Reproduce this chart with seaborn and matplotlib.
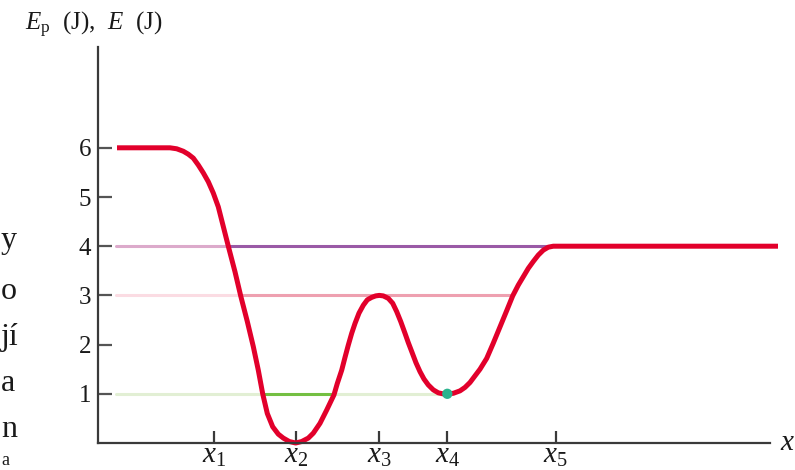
import numpy as np
import matplotlib
matplotlib.use("Agg")
import matplotlib.pyplot as plt
import seaborn as sns

# potential energy curve (x in arbitrary units)
curve_x = [19, 72, 78.7, 85.3, 90.3, 95.3, 100.3, 105.3, 110.3, 115.3, 120.3, 125.3,
           130.3, 137, 142.7, 149.3, 155.3, 160.3, 164.7, 169.3, 174.7, 180.3, 185.3,
           191.3, 197.7, 203.7, 210.3, 215.3, 222, 228.7, 236, 239.3, 243.7, 247,
           250.3, 253.7, 257, 261, 265.3, 269.3, 273.7, 277.7, 281.3, 285.3, 290.3,
           294.7, 298.7, 302.7, 307, 310.3, 313.7, 318, 322, 326, 330.3, 335.3, 340.3,
           344.7, 349.3, 355.3, 362, 367, 372, 382, 388.7, 395.3, 402, 408.7, 414.7,
           420.3, 425.3, 430.3, 435.3, 440.3, 445.3, 450.3, 455.3, 680]
curve_e = [6.0, 6.0, 5.98, 5.93, 5.87, 5.79, 5.65, 5.49, 5.31, 5.08, 4.80, 4.40,
           4.0, 3.48, 2.99, 2.47, 1.96, 1.48, 1.0, 0.60, 0.33, 0.18, 0.10,
           0.03, 0.0, 0.03, 0.10, 0.20, 0.40, 0.67, 0.98, 1.21, 1.48, 1.74,
           1.99, 2.23, 2.43, 2.64, 2.80, 2.91, 2.96, 2.99, 3.0, 2.99, 2.94,
           2.84, 2.67, 2.47, 2.23, 2.04, 1.86, 1.63, 1.45, 1.30, 1.18, 1.08, 1.02,
           1.0, 1.0, 1.01, 1.06, 1.13, 1.23, 1.50, 1.72, 2.03, 2.36, 2.69, 2.99,
           3.21, 3.38, 3.55, 3.69, 3.82, 3.92, 3.98, 4.0, 4.0]

# marked positions on the x axis
tick_pos = [116, 198, 281.3, 349.3, 457.7]
tick_lab = ["$x_1$", "$x_2$", "$x_3$", "$x_4$", "$x_5$"]

# total energy levels: level, start, end, colour
lvl_e = [4, 4, 3, 3, 1, 1, 1]
lvl_x0 = [18, 130.3, 18, 142.7, 18, 164.7, 236]
lvl_x1 = [130.3, 457.7, 142.7, 414.7, 164.7, 236, 349.3]
lvl_col = ["#dcaacb", "#9a5aa6", "#fbdce3", "#eea0b0", "#e2efd4", "#74bf42", "#e2efd4"]

# equilibrium point at x4
dot_x = [349.3]
dot_e = [1.0]

# scanned page fragments at the left edge
side_txt = ["y", "o", "jí", "a", "n", "a"]
side_y = [248, 299, 345, 391, 437, 470]

sns.set_style("white")
plt.rcParams["font.family"] = ["Liberation Serif", "DejaVu Serif"]
plt.rcParams["mathtext.fontset"] = "custom"
plt.rcParams["mathtext.rm"] = "Liberation Serif"
plt.rcParams["mathtext.it"] = "Liberation Serif:italic"

W, H = 795, 470
fig = plt.figure(figsize=(W / 100, H / 100), dpi=100)
ax = fig.add_axes([98 / W, 27 / H, 672 / W, 396 / H])

for e, a, b, c in zip(lvl_e, lvl_x0, lvl_x1, lvl_col):
    sns.lineplot(x=[a, b], y=[e, e], color=c, lw=2.2, ax=ax, zorder=2)

sns.lineplot(x=curve_x, y=curve_e, sort=False, estimator=None, color="#e2002b",
             lw=3.6, ax=ax, zorder=3, clip_on=False, solid_capstyle="butt",
             solid_joinstyle="round")
sns.scatterplot(x=dot_x, y=dot_e, color="#2bb38e", s=55, ax=ax, zorder=4,
                edgecolor="none")

ax.set_xlim(0, 672)
ax.set_ylim(0, 396 / 49.2)
sns.despine(ax=ax)
for s in ["left", "bottom"]:
    ax.spines[s].set_color("#3a3a3a")
    ax.spines[s].set_linewidth(1.6)
    ax.spines[s].set_zorder(5)

ax.set_yticks([1, 2, 3, 4, 5, 6])
ax.set_yticklabels(["1", "2", "3", "4", "5", "6"], fontsize=18, color="#1a1a1a")
ax.set_xticks(tick_pos)
ax.set_xticklabels(tick_lab, fontsize=21, color="#1a1a1a")
ax.tick_params(axis="y", direction="in", length=10, width=1.6, color="#555555", pad=5,
               left=True)
ax.tick_params(axis="x", direction="in", length=9, width=1.6, color="#3a3a3a", pad=0,
               bottom=True)
ax.set_xlabel("")
ax.set_ylabel("")

fig.text(25 / W, 1 - 30 / H, r"$E_\mathrm{p}$  (J),  $E$  (J)", fontsize=18,
         va="baseline", ha="left", color="#1a1a1a")
fig.text(788 / W, 1 - 443 / H, "$x$", fontsize=21, va="center", ha="center",
         color="#1a1a1a")
for t, yy in zip(side_txt[:-1], side_y[:-1]):
    fig.text(1 / W, 1 - yy / H, t, fontsize=23, va="baseline", ha="left",
             color="#1a1a1a")
# last fragment is mostly cut off in the source; keep it small and inside
fig.text(1 / W, 1 / H, side_txt[-1], fontsize=13, va="bottom",
         ha="left", color="#1a1a1a")

fig.savefig("out.png", dpi=100)
